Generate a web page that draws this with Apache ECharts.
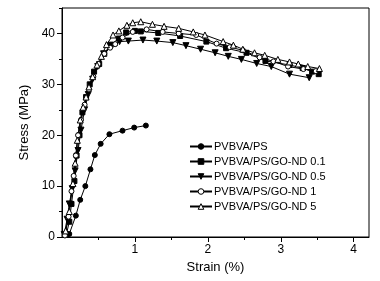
<!DOCTYPE html>
<html><head><meta charset="utf-8">
<script src="https://cdn.jsdelivr.net/npm/echarts@6/dist/echarts.min.js"></script>
<style>html,body{margin:0;padding:0;background:#fff}#c{width:380px;height:281px}</style>
</head><body><div id="c"></div>
<script>
const seriesNames = ["PVBVA/PS","PVBVA/PS/GO-ND 0.1","PVBVA/PS/GO-ND 0.5","PVBVA/PS/GO-ND 1","PVBVA/PS/GO-ND 5"];
const xTickLabels = [1,2,3,4];
const yTickLabels = [0,10,20,30,40];
const dataPS = [[0.10,0.6],[0.19,4.2],[0.25,7.3],[0.32,10.0],[0.39,13.3],[0.45,16.1],[0.53,18.3],[0.65,20.2],[0.83,20.9],[0.99,21.5],[1.15,21.9]];
const dataGO01 = [[0.06,0.5],[0.10,3],[0.13,6.5],[0.17,11],[0.20,16],[0.24,20],[0.28,24.5],[0.33,27.5],[0.38,30],[0.44,32.5],[0.51,34],[0.58,36],[0.67,37.8],[0.78,39],[0.88,40.2],[1.0,40.5],[1.08,40.4],[1.32,40.1],[1.62,39.5],[1.98,38.4],[2.25,37.1],[2.53,36.2],[2.79,34.6],[3.12,33.8],[3.30,33.2],[3.43,32.5],[3.52,32.0]];
const dataGO05 = [[0.03,0.5],[0.07,3.5],[0.10,6.5],[0.14,9.5],[0.18,13],[0.22,17],[0.26,21],[0.31,25],[0.36,28],[0.42,31],[0.49,33.5],[0.57,36],[0.66,37.5],[0.79,38.4],[0.91,38.5],[1.11,38.7],[1.30,38.5],[1.52,38.2],[1.70,37.6],[1.90,36.9],[2.10,36.2],[2.28,35.5],[2.46,34.9],[2.67,34.1],[2.87,33.5],[3.12,32.0],[3.39,31.3]];
const dataGO1 = [[0.04,0.3],[0.09,4],[0.13,9],[0.16,12],[0.19,16],[0.22,20],[0.26,23],[0.31,26],[0.37,29],[0.43,31.5],[0.50,34],[0.58,36],[0.66,37.2],[0.73,37.9],[0.83,39.2],[0.97,40.3],[1.16,40.8],[1.38,40.3],[1.60,40.0],[1.84,39.7],[2.12,38.0],[2.30,37.3],[2.48,36.7],[2.71,35.3],[2.90,34.5],[3.10,33.5],[3.31,33.0],[3.48,32.6]];
const dataGO5 = [[0.05,1.2],[0.10,5],[0.15,10.5],[0.18,14.5],[0.21,19],[0.25,23],[0.29,25.5],[0.33,27.5],[0.37,29.5],[0.42,31.5],[0.48,33.8],[0.54,35.5],[0.61,37.8],[0.70,39.7],[0.78,40.5],[0.89,41.6],[0.97,42.1],[1.08,42.3],[1.24,41.8],[1.40,41.4],[1.60,41.0],[1.80,40.3],[1.96,39.7],[2.21,38.4],[2.35,37.7],[2.48,36.9],[2.64,36.2],[2.78,35.7],[2.96,34.9],[3.12,34.4],[3.24,34.0],[3.37,33.5],[3.53,33.1]];

const allData = [dataPS, dataGO01, dataGO05, dataGO1, dataGO5];
const symbols = ['circle','rect','triangle','circle','triangle'];
const symSizes = [5,5,6,5,6];
const filled = [true,true,true,false,false];
const rotations = [0,0,180,0,0];

const chart = echarts.init(document.getElementById('c'), null, {renderer:'canvas'});
const font = 'Arial, "Liberation Sans", sans-serif';
const XMIN=0, XMAX=4.21, YMIN=0, YMAX=45;
const xMinor = [0.5,1.5,2.5,3.5];
const yMinor = [5,15,25,35,45];

chart.setOption({
  animation:false,
  backgroundColor:'#fff',
  grid:{left:62,right:11,top:8,bottom:44,show:true,borderColor:'#000',borderWidth:1,backgroundColor:'transparent'},
  legend:{
    orient:'vertical', left:184, top:134, itemWidth:22, itemHeight:7, itemGap:0,
    itemStyle:{borderWidth:1},
    textStyle:{fontFamily:font,fontSize:11,color:'#000',lineHeight:15,padding:[0,0,0,-3]},
    data:seriesNames
  },
  xAxis:[{
    type:'value', min:XMIN, max:XMAX, position:'bottom',
    name:'Strain (%)', nameLocation:'middle', nameGap:23,
    nameTextStyle:{fontFamily:font,fontSize:13,color:'#000'},
    axisLine:{show:true,lineStyle:{color:'#000',width:1}},
    axisTick:{show:true,inside:false,length:5,lineStyle:{color:'#000'},customValues:xTickLabels},
    axisLabel:{fontFamily:font,fontSize:12,color:'#000',margin:7,customValues:xTickLabels},
    splitLine:{show:false}
  },{
    type:'value', min:XMIN, max:XMAX, position:'bottom',
    axisLine:{show:false},
    axisTick:{show:true,inside:false,length:3,lineStyle:{color:'#000'},customValues:xMinor},
    axisLabel:{show:false}, splitLine:{show:false}
  }],
  yAxis:[{
    type:'value', min:YMIN, max:YMAX, position:'left',
    name:'Stress (MPa)', nameLocation:'middle', nameGap:24,
    nameTextStyle:{fontFamily:font,fontSize:13,color:'#000'},
    axisLine:{show:true,lineStyle:{color:'#000',width:1}},
    axisTick:{show:true,inside:false,length:5,lineStyle:{color:'#000'},customValues:yTickLabels},
    axisLabel:{fontFamily:font,fontSize:12,color:'#000',margin:7,customValues:yTickLabels},
    splitLine:{show:false}
  },{
    type:'value', min:YMIN, max:YMAX, position:'left',
    axisLine:{show:false},
    axisTick:{show:true,inside:false,length:3,lineStyle:{color:'#000'},customValues:yMinor},
    axisLabel:{show:false}, splitLine:{show:false}
  }],
  series: seriesNames.map((n,i)=>({
    name:n, type:'line', data:allData[i], xAxisIndex:0, yAxisIndex:0,
    symbol:symbols[i], symbolSize:symSizes[i], symbolRotate:rotations[i],
    showAllSymbol:true,
    lineStyle:{color:'#000',width:1},
    itemStyle:{color: filled[i] ? '#000' : '#fff', borderColor:'#000', borderWidth:1},
    emphasis:{disabled:true}
  }))
});
</script>
</body></html>
